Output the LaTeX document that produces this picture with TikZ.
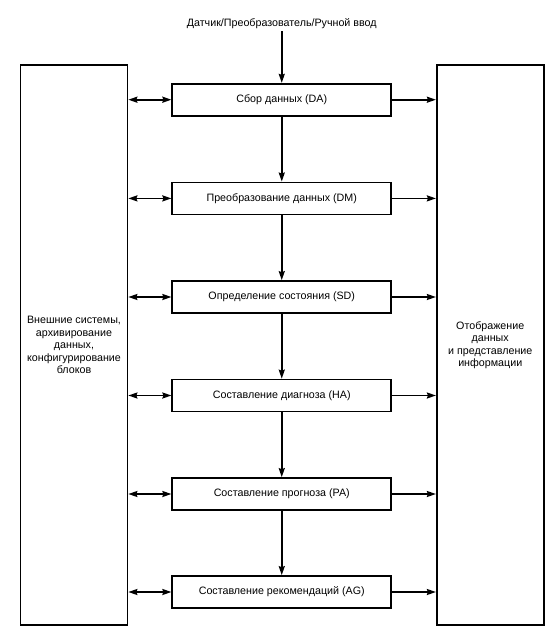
\documentclass[tikz,border=0pt]{standalone}
\usepackage{fontspec}
\setmainfont{Liberation Sans}
\usetikzlibrary{arrows.meta}
\begin{document}
\begin{tikzpicture}[x=1pt,y=-1pt,
  box/.style={draw, line width=1.7pt, minimum width=219pt, minimum height=32pt, inner sep=0pt, font=\fontsize{10.7}{12.5}\selectfont},
  side/.style={draw, line width=1.7pt, minimum width=107pt, minimum height=560pt, inner sep=0pt, align=center, font=\fontsize{10.7}{12.5}\selectfont},
  lbl/.style={inner sep=2pt, font=\fontsize{10.7}{12.5}\selectfont},
  tip/.tip={Stealth[length=9pt,width=6pt,inset=1pt]},
  arr/.style={line width=1.7pt, -tip},
  darr/.style={line width=1.7pt, tip-tip}]
\useasboundingbox (0,0) rectangle (554,634);
\node[side] (L) at (74,345.3) {Внешние системы,\\архивирование\\данных,\\конфигурирование\\блоков};
\node[side] (R) at (490.25,345.3) {Отображение\\данных\\и представление\\информации};
\node[lbl] (in) at (281.75,24) {Датчик/Преобразователь/Ручной ввод};
\node[box] (da) at (281.75,99.7) {Сбор данных (DA)};
\node[box] (dm) at (281.75,198.4) {Преобразование данных (DM)};
\node[box] (sd) at (281.75,297) {Определение состояния (SD)};
\node[box] (ha) at (281.75,395.5) {Составление диагноза (HA)};
\node[box] (pa) at (281.75,494) {Составление прогноза (PA)};
\node[box] (ag) at (281.75,592) {Составление рекомендаций (AG)};
\draw[arr] (in) -- (da);
\draw[arr] (da) -- (dm);
\draw[arr] (dm) -- (sd);
\draw[arr] (sd) -- (ha);
\draw[arr] (ha) -- (pa);
\draw[arr] (pa) -- (ag);
\foreach \b in {da,dm,sd,ha,pa,ag}{
  \draw[darr] (L.east |- \b.west) -- (\b.west);
  \draw[arr] (\b.east) -- (R.west |- \b.east);
}
\end{tikzpicture}
\end{document}
